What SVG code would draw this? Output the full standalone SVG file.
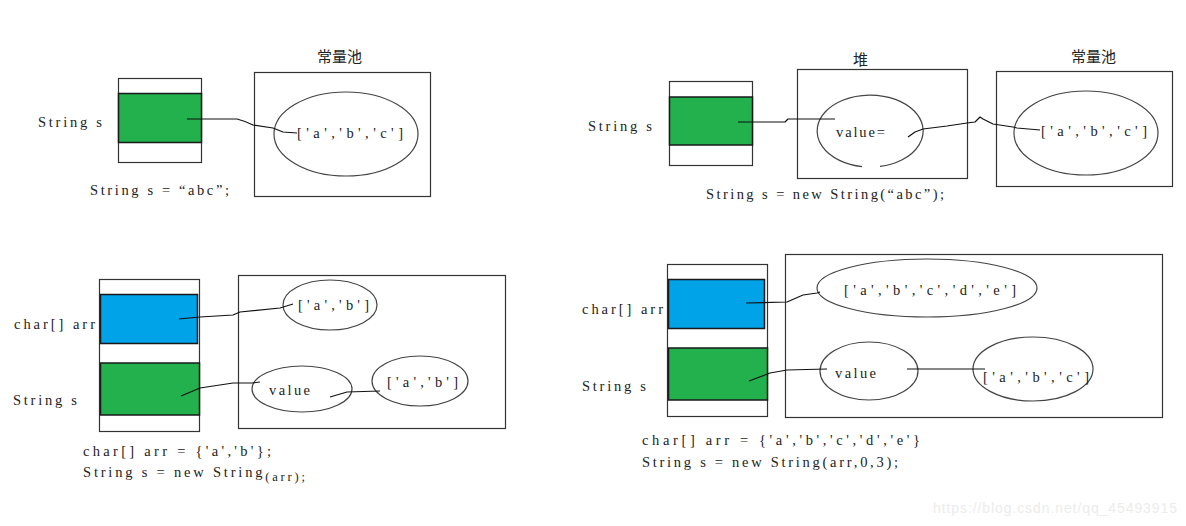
<svg xmlns="http://www.w3.org/2000/svg" width="1186" height="526" viewBox="0 0 1186 526">
<style>
.box{fill:#fff;stroke:#333;stroke-width:1.2}
.frame{fill:none;stroke:#333;stroke-width:1.2}
.green{fill:#22b14c;stroke:#1a1a1a;stroke-width:1.5}
.blue{fill:#00a2e8;stroke:#1a1a1a;stroke-width:1.5}
.ell{fill:none;stroke:#444;stroke-width:1.2}
.conn{fill:none;stroke:#111;stroke-width:1.2;stroke-linejoin:round}
.t{font-family:"Liberation Serif",serif;font-size:14.5px;fill:#222}
.s{font-family:"Liberation Serif",serif;font-size:12.5px;fill:#222}
.cjk{font-family:"Noto Sans CJK SC",sans-serif;font-size:15px;fill:#222}
.wm{font-family:"Liberation Sans",sans-serif;font-size:14px;fill:#ececec}
</style>
<rect width="1186" height="526" fill="#fff"/>

<!-- Panel 1 -->
<g id="p1-stack">
<rect class="box" x="118.5" y="78.5" width="83" height="84"/>
<rect class="green" x="118.5" y="93.5" width="83" height="49"/>
<text class="t" x="38" y="127" textLength="64">String s</text>
</g>
<g id="p1-pool">
<rect class="frame" x="254.5" y="72.5" width="176" height="124"/>
<text class="cjk" x="317" y="62">常量池</text>
<ellipse class="ell" cx="346" cy="134" rx="72" ry="42"/>
<text class="t" x="297" y="138" textLength="106">['a','b','c']</text>
</g>
<text id="p1-code" class="t" x="90" y="195" textLength="139">String s = “abc”;</text>

<!-- Panel 2 -->
<g id="p2-stack">
<rect class="box" x="669.5" y="81.5" width="83" height="84"/>
<rect class="green" x="669.5" y="97" width="83" height="48"/>
<text class="t" x="588" y="131" textLength="64">String s</text>
</g>
<g id="p2-heap">
<rect class="frame" x="797.5" y="69.5" width="170" height="109"/>
<text class="cjk" x="853" y="65">堆</text>
<path class="ell" d="M862,166.6 A53 36 0 1 1 880,166.4"/>
<text class="t" x="836" y="137" textLength="49">value=</text>
</g>
<g id="p2-pool">
<rect class="frame" x="996.5" y="71.5" width="176" height="115"/>
<text class="cjk" x="1071" y="62">常量池</text>
<ellipse class="ell" cx="1086" cy="133" rx="72" ry="42"/>
<text class="t" x="1041" y="136" textLength="106">['a','b','c']</text>
</g>
<text id="p2-code" class="t" x="706" y="199" textLength="238">String s = new String(“abc”);</text>

<!-- Panel 3 -->
<g id="p3-stack">
<rect class="box" x="99.5" y="279.5" width="100" height="152"/>
<rect class="blue" x="100.5" y="294.5" width="97" height="49"/>
<rect class="green" x="100.5" y="363" width="99" height="52"/>
<text class="t" x="14" y="329" textLength="81">char[] arr</text>
<text class="t" x="13" y="405" textLength="64">String s</text>
</g>
<g id="p3-heap">
<rect class="frame" x="238.5" y="275.5" width="267" height="153"/>
<ellipse class="ell" cx="330" cy="305" rx="47" ry="25"/>
<text class="t" x="298" y="310" textLength="71">['a','b']</text>
<ellipse class="ell" cx="302" cy="389" rx="50" ry="23"/>
<text class="t" x="269" y="395" textLength="41">value</text>
<ellipse class="ell" cx="420" cy="381" rx="48" ry="25"/>
<text class="t" x="387" y="387" textLength="71">['a','b']</text>
</g>
<g id="p3-code">
<text class="t" x="83" y="456" textLength="188">char[] arr = {'a','b'};</text>
<text class="t" x="83" y="477" textLength="222">String s = new String<tspan class="s" dy="4">(arr);</tspan></text>
</g>

<!-- Panel 4 -->
<g id="p4-stack">
<rect class="box" x="667.5" y="264.5" width="100" height="152"/>
<rect class="blue" x="668.5" y="279.5" width="96" height="49"/>
<rect class="green" x="668.5" y="348" width="99" height="52"/>
<text class="t" x="582" y="314" textLength="81">char[] arr</text>
<text class="t" x="582" y="391" textLength="64">String s</text>
</g>
<g id="p4-heap">
<rect class="frame" x="785.5" y="254.5" width="377" height="163"/>
<ellipse class="ell" cx="927" cy="288" rx="110" ry="29"/>
<text class="t" x="844" y="295" textLength="172">['a','b','c','d','e']</text>
<ellipse class="ell" cx="869" cy="371" rx="49" ry="29"/>
<text class="t" x="835" y="378" textLength="41">value</text>
<ellipse class="ell" cx="1033" cy="369" rx="60" ry="32"/>
<text class="t" x="983" y="382" textLength="106">['a','b','c']</text>
</g>
<g id="p4-code">
<text class="t" x="642" y="445" textLength="278">char[] arr = {'a','b','c','d','e'}</text>
<text class="t" x="642" y="467" textLength="256">String s = new String(arr,0,3);</text>
</g>

<g id="connectors">
<path class="conn" d="M187,119 L237,119 Q245,121 253,125 L273,128 L283,132 L297,133"/>
<path class="conn" d="M738,122 L785,122 L788,119 L835,119"/>
<path class="conn" d="M908,137 L915,132 L923,129 L947,126 L967,123 L975,122 L980,117 L983,119 L993,124 L1013,127 L1017,128 L1040,130"/>
<path class="conn" d="M179,319 L200,317 L233,315 L240,312 L280,308 L293,304"/>
<path class="conn" d="M181,396 L200,388 L233,383 L252,383 L260,382"/>
<path class="conn" d="M330,397 L347,392 L380,391"/>
<path class="conn" d="M746,303 L787,302 L803,295 L817,293 L820,292"/>
<path class="conn" d="M749,381 L770,373 L787,370 L827,369"/>
<path class="conn" d="M907,369 L985,369"/>
</g>

<text id="watermark" class="wm" x="933" y="513" textLength="244">https://blog.csdn.net/qq_45493915</text>
</svg>
